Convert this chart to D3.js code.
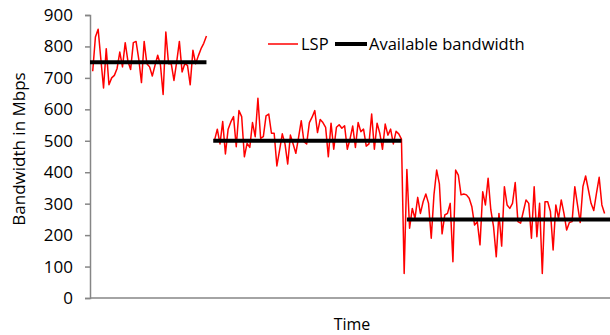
<!DOCTYPE html>
<html>
<head>
<meta charset="utf-8">
<script src="https://cdn.jsdelivr.net/npm/d3@7"></script>
<style>
  body { margin: 0; background: #fff; }
</style>
</head>
<body>
<div class="chart-div"></div>
<script>

var width = 610;
var height = 335;

// LSP bandwidth samples, three phases (time index start + values)
var lsp1Start = 1;
var lsp1 = [721, 830, 855, 760, 668, 793, 678, 700, 708, 730, 782, 735, 812, 753, 727,
    812, 816, 760, 685, 816, 745, 735, 706, 740, 772, 742, 647, 846, 745, 745,
    692, 750, 816, 719, 745, 740, 678, 788, 745, 770, 793, 810, 833];

var lsp2Start = 46;
var lsp2 = [502, 537, 490, 561, 458, 537, 560, 577, 481, 596, 577, 449, 492, 479, 558,
    513, 635, 508, 513, 579, 585, 524, 524, 420, 470, 522, 490, 426, 518, 490,
    460, 510, 564, 497, 490, 558, 575, 596, 526, 568, 558, 543, 449, 556, 473,
    543, 551, 540, 548, 473, 505, 547, 479, 558, 529, 537, 483, 490, 585, 473,
    556, 524, 473, 553, 518, 537, 490, 530, 522, 505];

var lsp3 = [78, 409, 222, 285, 253, 320, 269, 306, 331, 301, 190, 328, 407, 363, 204,
    264, 269, 301, 115, 407, 391, 328, 331, 328, 317, 290, 232, 243, 169, 338,
    296, 381, 280, 227, 131, 269, 165, 354, 296, 285, 301, 367, 243, 238, 275,
    312, 301, 190, 354, 195, 301, 78, 306, 306, 275, 153, 296, 253, 312, 269,
    216, 240, 243, 354, 296, 240, 354, 388, 345, 301, 278, 333, 384, 296, 269];

// available bandwidth steps
var availStart = [0, 45.5, 117];
var availEnd = [43, 115, 192];
var availValue = [750, 500, 250];

var yTicks = [0, 100, 200, 300, 400, 500, 600, 700, 800, 900];

var svg = d3.select("div.chart-div")
    .append("svg")
    .attr("width", width)
    .attr("height", height);

var x = d3.scaleLinear().domain([0, 192]).range([90, 610]);
var y = d3.scaleLinear().domain([0, 900]).range([298, 15]);

var font = "Open Sans, Lato, sans-serif";

// series 2 runs straight into series 3, series 1 stands alone
var pts1 = lsp1.map(function (v, i) { return [lsp1Start + i, v]; });
var pts23 = lsp2.map(function (v, i) { return [lsp2Start + i, v]; })
    .concat(lsp3.map(function (v, i) { return [lsp2Start + lsp2.length + i, v]; }));

var line = d3.line()
    .x(function (d) { return x(d[0]); })
    .y(function (d) { return y(d[1]); });

// axes
var yAxis = svg.append("g")
    .attr("transform", "translate(90,0)")
    .call(d3.axisLeft(y).tickValues(yTicks).tickSize(5).tickPadding(12));

yAxis.select(".domain").attr("stroke", "#868686").attr("stroke-width", 1.5);
yAxis.selectAll(".tick line").attr("stroke", "#868686").attr("stroke-width", 1.5);
yAxis.attr("font-family", font).attr("font-size", 17);
yAxis.selectAll(".tick text").style("fill", "#000");

svg.append("line")
    .attr("x1", x(0))
    .attr("y1", y(0))
    .attr("x2", x(192))
    .attr("y2", y(0))
    .attr("stroke", "#868686")
    .attr("stroke-width", 1.5);

// LSP line
var lspSegments = [pts1, pts23];
lspSegments.forEach(function (pts) {
    svg.append("path")
        .attr("d", line(pts))
        .attr("fill", "none")
        .attr("stroke", "#ff0000")
        .attr("stroke-width", 1.5)
        .attr("stroke-linejoin", "round");
});

// available bandwidth
for (var k = 0; k < availValue.length; k++) {
    svg.append("line")
        .attr("x1", x(availStart[k]))
        .attr("y1", y(availValue[k]))
        .attr("x2", x(availEnd[k]))
        .attr("y2", y(availValue[k]))
        .attr("stroke", "#000")
        .attr("stroke-width", 4);
}

// legend
var legend = svg.append("g");

legend.append("line")
    .attr("x1", 268).attr("y1", 44)
    .attr("x2", 298).attr("y2", 44)
    .attr("stroke", "#ff0000")
    .attr("stroke-width", 1.5);

legend.append("text")
    .attr("x", 301)
    .attr("y", 50)
    .text("LSP")
    .attr("font-family", font)
    .attr("font-size", 16.5)
    .style("fill", "#000");

legend.append("line")
    .attr("x1", 335).attr("y1", 44)
    .attr("x2", 367).attr("y2", 44)
    .attr("stroke", "#000")
    .attr("stroke-width", 4);

legend.append("text")
    .attr("x", 369)
    .attr("y", 50)
    .text("Available bandwidth")
    .attr("font-family", font)
    .attr("font-size", 16.5)
    .style("fill", "#000");

// axis titles
svg.append("text")
    .attr("transform", "translate(25,149) rotate(-90)")
    .attr("text-anchor", "middle")
    .text("Bandwidth in Mbps")
    .attr("font-family", font)
    .attr("font-size", 17)
    .style("fill", "#000");

svg.append("text")
    .attr("x", 352)
    .attr("y", 330)
    .attr("text-anchor", "middle")
    .text("Time")
    .attr("font-family", font)
    .attr("font-size", 16)
    .style("fill", "#000");

</script>
</body>
</html>
